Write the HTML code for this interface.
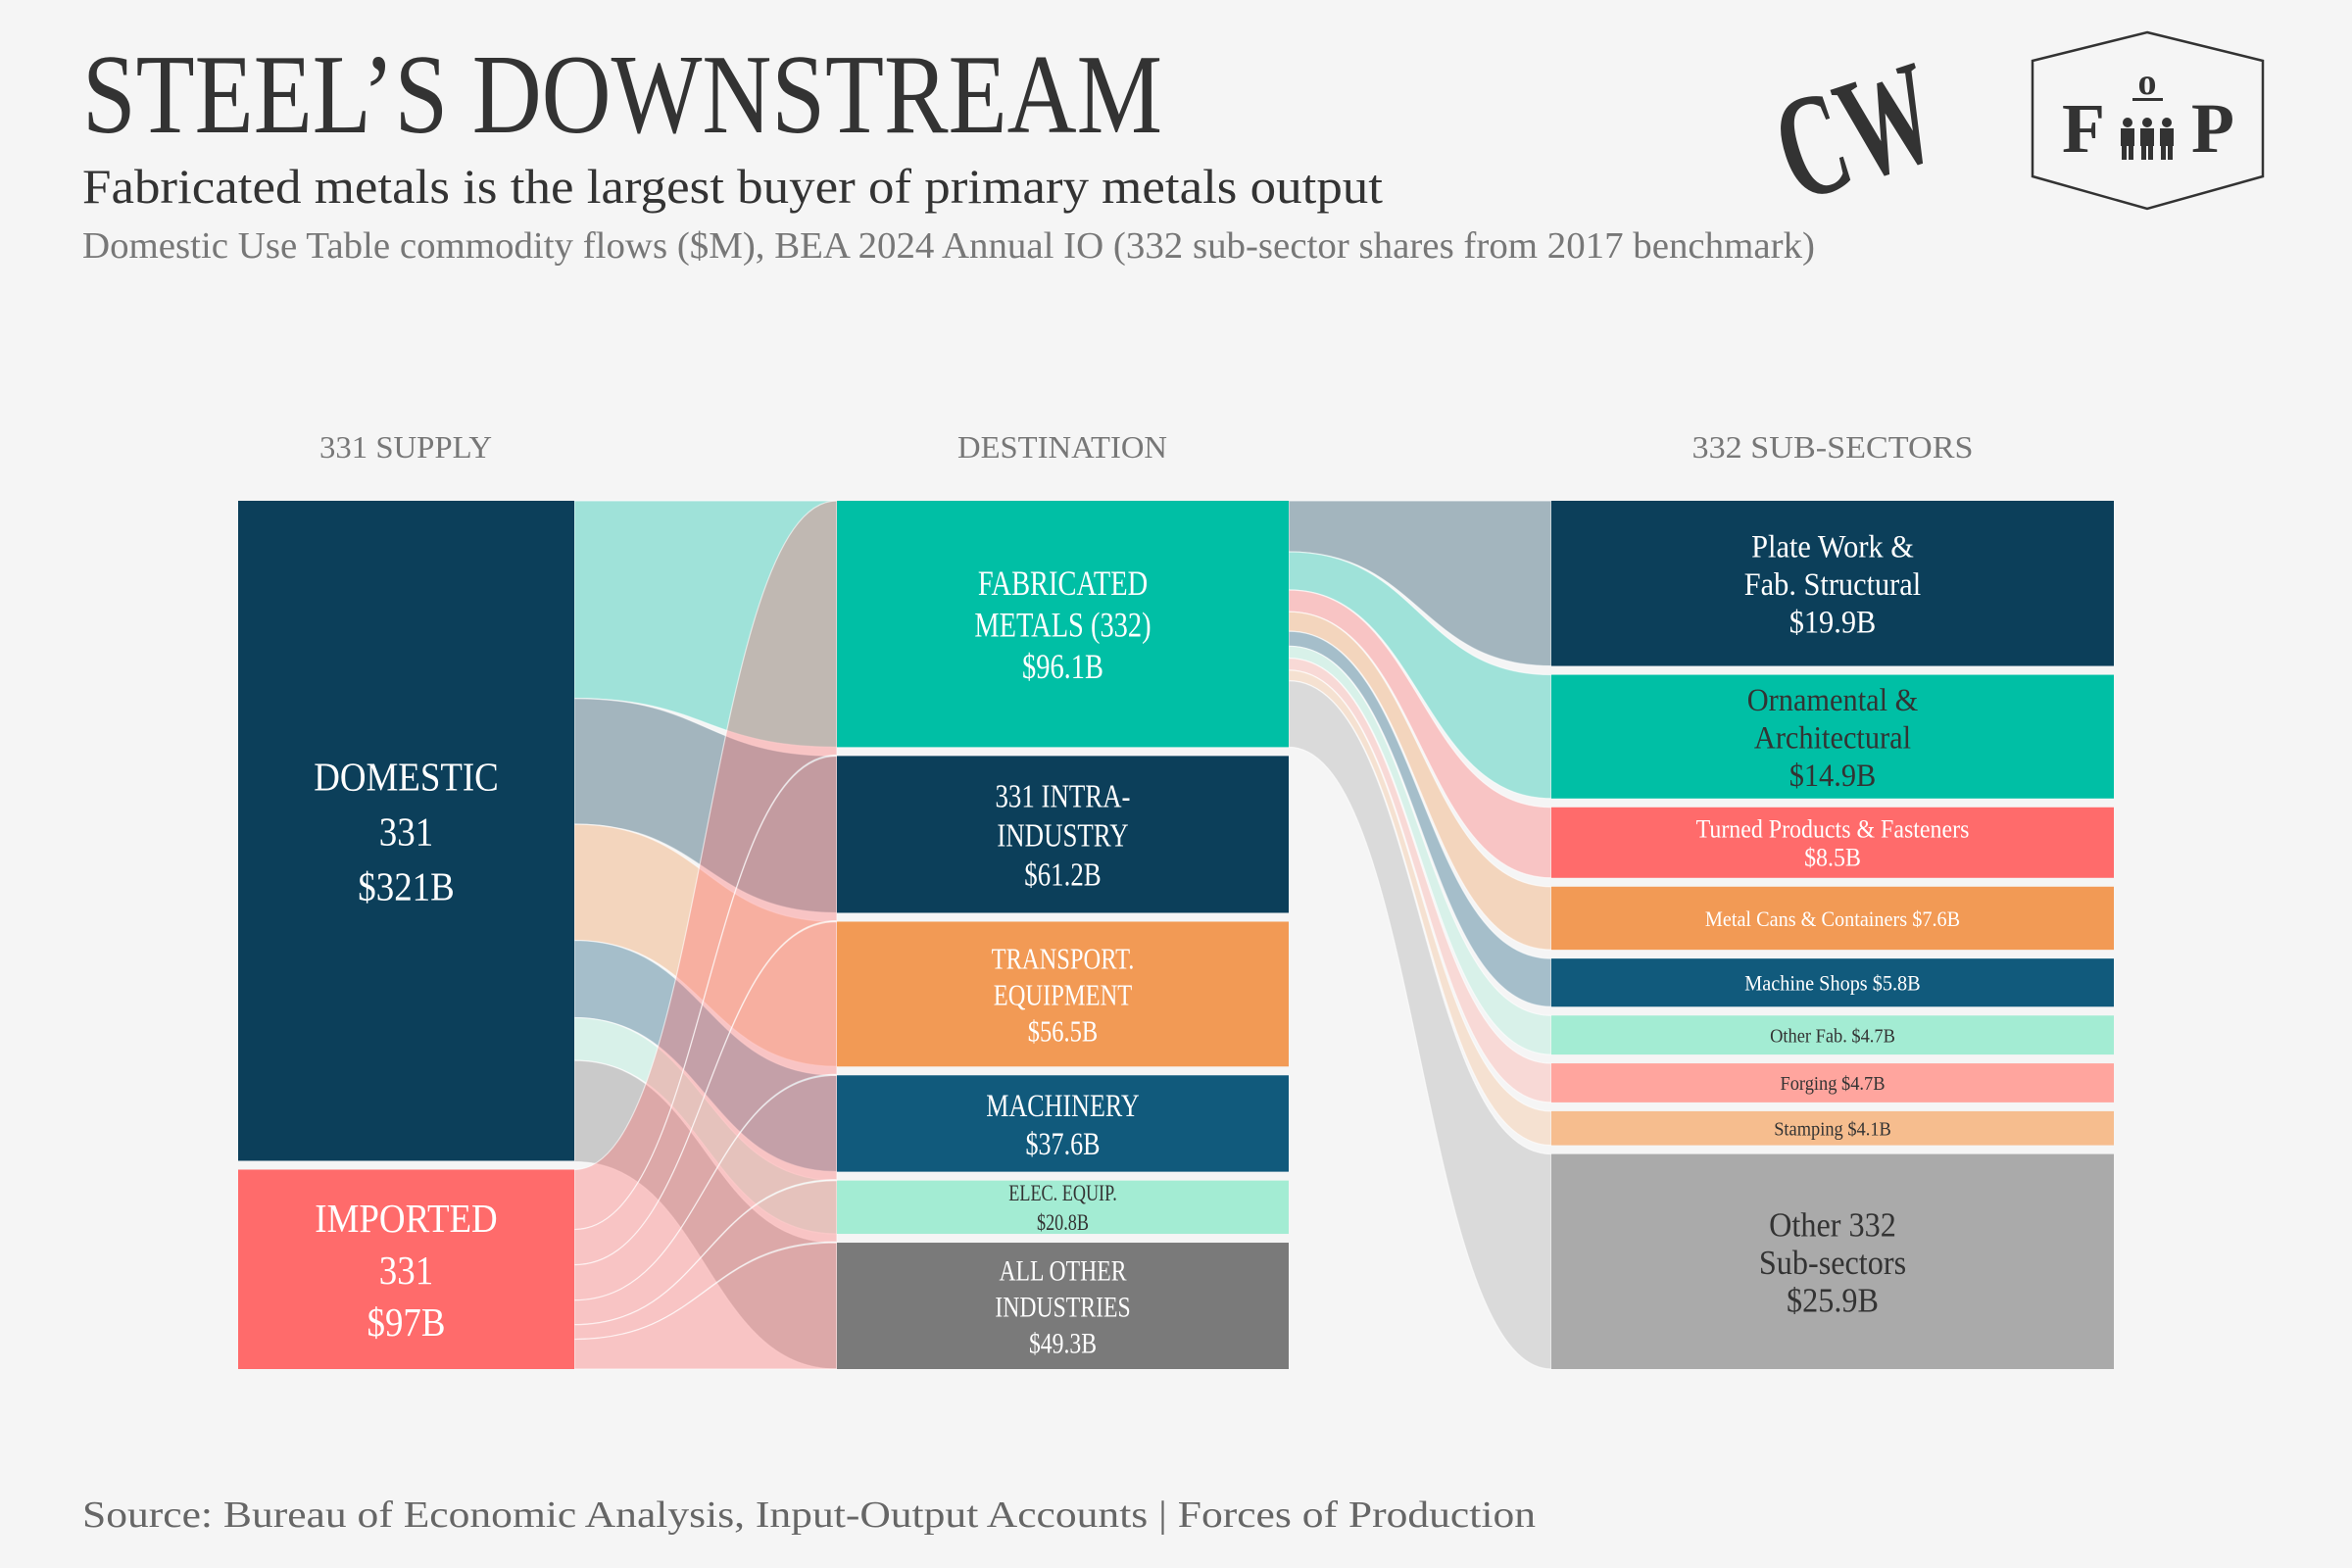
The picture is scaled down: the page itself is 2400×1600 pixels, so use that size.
<!DOCTYPE html>
<html><head><meta charset="utf-8">
<style>
html,body{margin:0;padding:0;background:#f5f5f5;}
svg{display:block;font-family:"Liberation Serif",serif;}
</style></head>
<body>
<svg id="chart" width="2400" height="1600" viewBox="0 0 2400 1600" xmlns="http://www.w3.org/2000/svg">
<rect width="2400" height="1600" fill="#f5f5f5"/>
<text x="84" y="135" font-size="116" fill="#333" textLength="1102" lengthAdjust="spacingAndGlyphs">STEEL’S DOWNSTREAM</text>
<text x="84" y="207" font-size="50" fill="#333" textLength="1327" lengthAdjust="spacingAndGlyphs">Fabricated metals is the largest buyer of primary metals output</text>
<text x="84" y="263" font-size="38" fill="#777" textLength="1768" lengthAdjust="spacingAndGlyphs">Domestic Use Table commodity flows ($M), BEA 2024 Annual IO (332 sub-sector shares from 2017 benchmark)</text>

<g fill="#333">
<text x="1812" y="185" font-size="150" font-weight="bold" transform="rotate(-18 1890 130)" textLength="160" lengthAdjust="spacingAndGlyphs">CW</text>
</g>
<g>
<polygon points="2191,33 2309,62 2309,180 2191,213 2074,180 2074,62" fill="none" stroke="#333" stroke-width="2.5"/>
<text x="2104" y="155" font-size="72" fill="#333" font-weight="bold">F</text>
<text x="2236" y="155" font-size="72" fill="#333" font-weight="bold">P</text>
<text x="2191" y="96" font-size="38" fill="#333" text-anchor="middle" font-weight="bold">o</text>
<rect x="2176" y="100" width="31" height="3" fill="#333"/>
<g fill="#333">
<circle cx="2171" cy="125" r="5"/><rect x="2164" y="131" width="14" height="18"/><rect x="2165" y="148" width="5" height="15"/><rect x="2172" y="148" width="5" height="15"/>
<circle cx="2191" cy="125" r="5"/><rect x="2184" y="131" width="14" height="18"/><rect x="2185" y="148" width="5" height="15"/><rect x="2192" y="148" width="5" height="15"/>
<circle cx="2211" cy="125" r="5"/><rect x="2204" y="131" width="14" height="18"/><rect x="2205" y="148" width="5" height="15"/><rect x="2212" y="148" width="5" height="15"/>
</g>
</g>

<text x="414" y="467" font-size="32" fill="#777" text-anchor="middle" textLength="176" lengthAdjust="spacingAndGlyphs">331 SUPPLY</text>
<text x="1084" y="467" font-size="32" fill="#777" text-anchor="middle" textLength="214" lengthAdjust="spacingAndGlyphs">DESTINATION</text>
<text x="1870" y="467" font-size="32" fill="#777" text-anchor="middle" textLength="287" lengthAdjust="spacingAndGlyphs">332 SUB-SECTORS</text>

<g id="links"></g>
<g id="nodes"></g>
<g id="labels"></g>

<text x="84" y="1558" font-size="38" fill="#666" textLength="1483" lengthAdjust="spacingAndGlyphs">Source: Bureau of Economic Analysis, Input-Output Accounts | Forces of Production</text>
</svg>
<script>
// ---- data ----
const supplyNames = ["Domestic 331", "Imported 331"];
const supplyValues = [321, 97];
const supplyLabels = [["DOMESTIC","331","$321B"],["IMPORTED","331","$97B"]];
const destNames = ["Fabricated Metals", "331 Intra-Industry", "Transport Equipment", "Machinery", "Elec. Equip.", "All Other Industries"];
const destValues = [96.1, 61.2, 56.5, 37.6, 20.8, 49.3];
const importedToDest = [29.1, 17.2, 17.2, 11.9, 7.1, 14.5];
const destLabels = [["FABRICATED","METALS (332)","$96.1B"],["331 INTRA-","INDUSTRY","$61.2B"],["TRANSPORT.","EQUIPMENT","$56.5B"],["MACHINERY","$37.6B"],["ELEC. EQUIP.","$20.8B"],["ALL OTHER","INDUSTRIES","$49.3B"]];
const subNames = ["Plate Work & Fab. Structural","Ornamental & Architectural","Turned Products & Fasteners","Metal Cans & Containers","Machine Shops","Other Fab.","Forging","Stamping","Other 332 Sub-sectors"];
const subValues = [19.9, 14.9, 8.5, 7.6, 5.8, 4.7, 4.7, 4.1, 25.9];
const subLabels = [["Plate Work &","Fab. Structural","$19.9B"],["Ornamental &","Architectural","$14.9B"],["Turned Products & Fasteners","$8.5B"],["Metal Cans & Containers $7.6B"],["Machine Shops $5.8B"],["Other Fab. $4.7B"],["Forging $4.7B"],["Stamping $4.1B"],["Other 332","Sub-sectors","$25.9B"]];

// ---- styles ----
const supplyColors = ["#0c3f5a","#ff6b6b"];
const destColors = ["#00bfa5","#0c3f5a","#f29a55","#115a7c","#a3ecd3","#7a7a7a"];
const subColors = ["#0c3f5a","#00bfa5","#ff6b6b","#f29a55","#115a7c","#a3ecd3","#ffa59e","#f6bd8e","#aaaaaa"];
const destText = ["#fff","#fff","#fff","#fff","#333","#fff"];
const subText = ["#fff","#333","#fff","#fff","#fff","#333","#333","#333","#333"];
const destFont = [[36,42.5],[34,40],[31,37],[33,39],[23,30],[30,37]];
const subFont = [[33,38.5],[33,38.5],[26,29],[22,0],[22,0],[20,0],[20,0],[20,0],[35,38.5]];
const TOP = 511, BOT = 1397, GAP = 9;
const COL = [[243,586],[854,1315],[1583,2157]];

function layout(values){
  const total = values.reduce((a,b)=>a+b,0);
  const k = (BOT-TOP-GAP*(values.length-1))/total;
  let y = TOP; const out=[];
  values.forEach(v=>{out.push({y0:y,y1:y+v*k}); y+=v*k+GAP;});
  return {nodes:out,k:k};
}
const L1 = layout(supplyValues), L2 = layout(destValues), L3 = layout(subValues);
const NS="http://www.w3.org/2000/svg";
const gL=document.getElementById('links'), gN=document.getElementById('nodes'), gT=document.getElementById('labels');

function band(x0,a0,a1,x1,b0,b1,color,name){
  const xm=(x0+x1)/2;
  const p=document.createElementNS(NS,'path');
  p.setAttribute('d',`M${x0},${a0} C${xm},${a0} ${xm},${b0} ${x1},${b0} L${x1},${b1} C${xm},${b1} ${xm},${a1} ${x0},${a1} Z`);
  p.setAttribute('fill',color); p.setAttribute('fill-opacity','0.35');
  p.setAttribute('stroke','#fff'); p.setAttribute('stroke-width','1.2'); p.setAttribute('stroke-opacity','0.6');
  
  
  gL.appendChild(p);
}
// domestic -> destinations
let sy = L1.nodes[0].y0;
destValues.forEach((v,i)=>{
  const w=v*L1.k; const t=L2.nodes[i];
  band(COL[0][1],sy,sy+w,COL[1][0],t.y0,t.y1,destColors[i],'link-domestic-'+i);
  sy+=w;
});
// imported -> destinations
sy = L1.nodes[1].y0;
importedToDest.forEach((v,i)=>{
  const w=v*L1.k; const t=L2.nodes[i];
  const ext = (i===importedToDest.length-1) ? 0 : 8;
  band(COL[0][1],sy,sy+w,COL[1][0],t.y0,t.y1+ext,supplyColors[1],'link-imported-'+i);
  sy+=w;
});
// fabricated -> sub-sectors
sy = L2.nodes[0].y0;
subValues.forEach((v,i)=>{
  const w=v*L2.k; const t=L3.nodes[i];
  band(COL[1][1],sy,sy+w,COL[2][0],t.y0,t.y1,subColors[i],'link-sub-'+i);
  sy+=w;
});

function node(col,n,color,name){
  const r=document.createElementNS(NS,'rect');
  r.setAttribute('x',COL[col][0]); r.setAttribute('y',n.y0);
  r.setAttribute('width',COL[col][1]-COL[col][0]); r.setAttribute('height',n.y1-n.y0);
  r.setAttribute('fill',color);
  
  
  gN.appendChild(r);
}
const toLabel=[];
function label(col,n,lines,fs,lh,color,factor,name){
  const cx=(COL[col][0]+COL[col][1])/2, cy=(n.y0+n.y1)/2;
  lines.forEach((s,i)=>{
    const t=document.createElementNS(NS,'text');
    t.setAttribute('x',cx);
    t.setAttribute('y',cy+(i-(lines.length-1)/2)*lh+0.36*fs);
    t.setAttribute('font-size',fs); t.setAttribute('fill',color);
    t.setAttribute('text-anchor','middle');
    t.textContent=s;
    
    
    gT.appendChild(t); toLabel.push([t,factor]);
  });
}
L1.nodes.forEach((n,i)=>{node(0,n,supplyColors[i],'node-supply-'+i); label(0,n,supplyLabels[i],41,i?53:56,'#fff',0.9,'label-supply-'+i);});
L2.nodes.forEach((n,i)=>{node(1,n,destColors[i],'node-dest-'+i); label(1,n,destLabels[i],destFont[i][0],destFont[i][1],destText[i],0.79,'label-dest-'+i);});
L3.nodes.forEach((n,i)=>{node(2,n,subColors[i],'node-sub-'+i); label(2,n,subLabels[i],subFont[i][0],subFont[i][1],subText[i],0.92,'label-sub-'+i);});
toLabel.forEach(([t,f])=>{
  const w=t.getComputedTextLength();
  if(w>0){t.setAttribute('textLength',(w*f).toFixed(1)); t.setAttribute('lengthAdjust','spacingAndGlyphs');}
});
</script>
</body></html>
